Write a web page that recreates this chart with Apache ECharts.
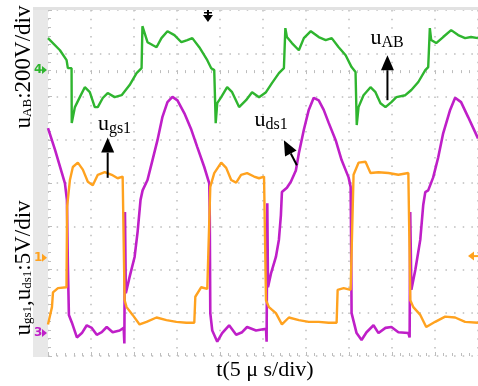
<!DOCTYPE html>
<html>
<head>
<meta charset="utf-8">
<script src="https://cdn.jsdelivr.net/npm/echarts@6/dist/echarts.min.js"></script>
<style>
  html, body { margin: 0; padding: 0; background: #fff; }
  #main { width: 478px; height: 386px; }
</style>
</head>
<body>
<div id="main"></div>
<script>
// time in µs (5 µs/div, 10 div), voltages in V
const uAB = [[0,148],[1.39,92],[2.16,46],[2.31,9],[2.74,9],[2.76,-245],[3.13,-171],[3.7,-125],[4.28,-79],[4.86,-102],[5.44,-171],[5.79,-171],[6.37,-129],[6.94,-106],[7.75,-125],[8.56,-116],[9.49,-69],[10.3,-14],[10.88,9],[10.98,203],[11.57,129],[12.15,116],[12.62,106],[13.19,148],[13.89,180],[14.7,162],[15.51,129],[16.2,139],[16.78,148],[17.59,106],[18.52,46],[18.98,9],[19.33,0],[19.5,-245],[19.68,-153],[20.14,-125],[20.83,-79],[21.41,-102],[22.22,-171],[23.03,-139],[23.73,-102],[24.54,-125],[25.35,-102],[26.04,-60],[26.85,-14],[27.43,9],[27.6,194],[27.78,153],[28.36,125],[29.17,92],[29.75,148],[30.56,180],[31.48,153],[32.29,139],[32.99,148],[33.8,106],[34.61,69],[35.3,14],[35.76,-9],[35.9,-254],[36.11,-171],[36.69,-116],[37.5,-79],[38.08,-102],[38.66,-153],[39.24,-171],[39.93,-148],[40.51,-125],[41.55,-116],[42.25,-92],[43.06,-55],[43.87,0],[44.21,14],[44.4,194],[44.56,139],[45.14,125],[45.95,153],[46.88,185],[47.69,162],[48.5,148],[49.19,153],[50,148]];

const uds1 = [[0,23.7],[0.81,21.2],[1.62,18.5],[1.97,17.3],[2.2,15.4],[2.31,7.9],[2.37,5.0],[2.43,2.1],[2.78,1.2],[3.36,-0.5],[3.94,0],[4.51,0.9],[5.09,0.6],[5.67,-0.2],[6.25,0.1],[6.83,0.7],[7.52,0.1],[8.33,0.3],[8.8,0.6],[8.88,-1.2],[8.95,14.0],[9.05,4.6],[9.49,6.5],[10.07,8.8],[10.42,11.7],[10.76,15.4],[11.0,16.5],[11.57,17.7],[12.15,20.0],[12.73,22.3],[13.31,25.0],[13.89,26.7],[14.47,27.3],[15.05,26.9],[15.86,25.4],[16.67,23.5],[17.36,21.5],[18.17,19.2],[18.75,17.3],[18.81,13.4],[18.87,2.3],[19.1,0.3],[19.68,-1.0],[20.25,0],[21.06,0.9],[21.88,-0.2],[22.57,0.1],[23.15,0.7],[24.19,0.3],[25.35,0.5],[25.42,-1.0],[25.5,15.0],[25.58,5.3],[25.93,6.9],[26.5,8.8],[26.85,10.8],[27.08,13.6],[27.2,16.3],[27.78,16.8],[28.24,17.5],[28.82,18.8],[29.17,20.8],[29.75,23.5],[30.32,25.8],[30.9,27.2],[31.48,26.9],[32.06,25.8],[32.64,24.3],[33.45,22.3],[34.14,20.0],[34.95,18.0],[35.19,16.9],[35.24,11.6],[35.3,2.3],[35.88,0],[36.46,-0.8],[37.04,0.1],[37.85,0.9],[38.43,0],[39.24,0.6],[39.93,0.7],[40.74,0.1],[41.9,0],[42.05,-0.5],[42.12,14.0],[42.25,5.0],[42.71,7.3],[43.29,10.8],[43.63,14.8],[43.87,16.3],[44.21,16.5],[44.79,18.0],[45.37,20.3],[45.95,23.1],[46.76,25.8],[47.34,27.2],[48.03,26.7],[48.84,25.0],[50,22.5]];

const ugs1 = [[0,-7.7],[0.46,-5.7],[0.58,-4.0],[1.16,-3.5],[2.15,-3.4],[2.22,5.9],[2.55,9.0],[2.89,10.5],[3.47,11.0],[4.05,10.2],[4.63,8.8],[5.21,8.4],[5.79,9.6],[6.6,9.9],[7.41,9.6],[8.1,9.2],[8.68,9.4],[8.85,9.2],[8.91,-4.9],[9.14,-5.7],[9.84,-6.6],[10.65,-7.7],[11.46,-7.4],[12.62,-6.9],[13.77,-7.2],[14.93,-7.4],[16.09,-7.5],[17.01,-7.5],[17.13,-4.5],[17.82,-3.4],[18.52,-3.6],[18.75,-3.6],[18.87,8.2],[19.33,9.8],[20.14,11.0],[20.72,10.4],[21.3,9.0],[21.88,8.7],[22.45,9.6],[23.15,9.8],[23.96,9.4],[24.54,9.2],[25.12,9.4],[25.29,9.4],[25.35,-4.9],[25.69,-5.7],[26.5,-6.4],[27.2,-7.7],[28.01,-6.9],[29.17,-7.2],[30.32,-7.4],[31.48,-7.4],[32.64,-7.5],[33.56,-7.5],[33.68,-3.7],[34.38,-3.5],[35.19,-3.7],[35.3,-3.7],[35.53,9.6],[36.11,11.0],[36.92,11.1],[37.5,9.8],[38.43,9.9],[39.58,9.8],[40.74,9.6],[41.9,9.8],[42.07,9.7],[42.13,-4.9],[42.48,-5.7],[43.29,-6.6],[43.98,-8.0],[45.02,-7.4],[46.18,-6.8],[47.34,-6.9],[48.5,-7.4],[50,-7.5]];

// scope settings: divisions, V/div and ground level (div from bottom) of each channel
const timeDiv = 5, nDivX = 10, nDivY = 8;
const abPerDiv = 200, abZeroDiv = 6.61;
const gsPerDiv = 5, gsZeroDiv = 2.27;
const dsPerDiv = 5, dsZeroDiv = 0.53;
const trigTime = 18.6, trigLevel = 0.2;

const green = '#2fb52f', magenta = '#bf1fc8', orange = '#ffa21f';
const serif = '"Liberation Serif", "Times New Roman", serif';

const chart = echarts.init(document.getElementById('main'), null, { renderer: 'canvas' });

const gridColor = '#bdbdbd';
const dotted = { color: gridColor, width: 1.5, type: [1.5, 7.14] };

function chanAxis(perDiv, zeroDiv) {
  return { type: 'value', show: false, min: -zeroDiv * perDiv, max: (nDivY - zeroDiv) * perDiv };
}

function gridAxis(extra) {
  return Object.assign({
    type: 'value', axisLine: { show: false }, axisLabel: { show: false },
    axisTick: { show: true, inside: true, length: 4, lineStyle: { color: gridColor } },
    minorTick: { show: true, splitNumber: 5, length: 3, lineStyle: { color: gridColor } },
    splitLine: { show: true, lineStyle: dotted }
  }, extra);
}

let option = {
  animation: false,
  grid: { left: 48, top: 10, width: 432, height: 346 },
  xAxis: [
    gridAxis({ min: 0, max: nDivX * timeDiv, interval: timeDiv, position: 'bottom' }),
    gridAxis({ min: 0, max: nDivX * timeDiv, interval: timeDiv, position: 'top', splitLine: { show: false } })
  ],
  yAxis: [
    gridAxis({ min: 0, max: nDivY, interval: 1, position: 'left' }),
    chanAxis(abPerDiv, abZeroDiv),
    chanAxis(gsPerDiv, gsZeroDiv),
    chanAxis(dsPerDiv, dsZeroDiv)
  ],
  series: [
    { name: 'uAB', type: 'line', yAxisIndex: 1, data: uAB, showSymbol: false, lineStyle: { color: green, width: 2.4 } },
    { name: 'uds1', type: 'line', yAxisIndex: 3, data: uds1, showSymbol: false, lineStyle: { color: magenta, width: 2.6 } },
    { name: 'ugs1', type: 'line', yAxisIndex: 2, data: ugs1, showSymbol: false, lineStyle: { color: orange, width: 2.4 } }
  ]
};
chart.setOption(option);

// annotations, placed from data coordinates
const toPx = (ax, t, v) => chart.convertToPixel({ xAxisIndex: 0, yAxisIndex: ax }, [t, v]);

const richPlot = {
  m: { fontSize: 22, fontFamily: serif, color: '#000' },
  s: { fontSize: 16, fontFamily: serif, color: '#000', padding: [9, 0, 0, 0] }
};
const richAxis = {
  m: { fontSize: 23, fontFamily: serif, color: '#000' },
  s: { fontSize: 13, fontFamily: serif, color: '#000', padding: [7, 0, 0, 0] }
};

function label(p, txt, rich, rot) {
  return {
    type: 'text', x: p[0], y: p[1], rotation: rot || 0, z: 100,
    style: { text: txt, rich: rich, align: rot ? 'center' : 'left', verticalAlign: 'middle' }
  };
}

function arrow(a, b) {
  const dx = b[0] - a[0], dy = b[1] - a[1], len = Math.sqrt(dx * dx + dy * dy);
  const ux = dx / len, uy = dy / len, hl = 15, hw = 6.5;
  const base = [b[0] - ux * hl, b[1] - uy * hl];
  return [
    { type: 'line', z: 100, shape: { x1: a[0], y1: a[1], x2: base[0], y2: base[1] }, style: { stroke: '#000', lineWidth: 2 } },
    { type: 'polygon', z: 100, shape: { points: [b, [base[0] - uy * hw, base[1] + ux * hw], [base[0] + uy * hw, base[1] - ux * hw]] }, style: { fill: '#000' } }
  ];
}

function chMarker(y, txt, col) {
  return [
    { type: 'text', x: 34, y: y, z: 100, style: { text: txt, fontSize: 12, fontWeight: 'bold', fontFamily: 'DejaVu Sans', fill: col, align: 'left', verticalAlign: 'middle' } },
    { type: 'polygon', z: 100, shape: { points: [[42, y - 4], [47, y], [42, y + 4]] }, style: { fill: col } }
  ];
}

const y4 = toPx(1, 0, 0)[1], y1 = toPx(2, 0, 0)[1], y3 = toPx(3, 0, 0)[1];
const trigX = toPx(0, trigTime, 0)[0], trigY = toPx(2, 0, trigLevel)[1];

let g = [
  { type: 'rect', z: 1, shape: { x: 33, y: 7, width: 15, height: 350 }, style: { fill: '#e8e8e8' } },
  { type: 'rect', z: 1, shape: { x: 33, y: 7, width: 445, height: 3 }, style: { fill: '#e2e2e2' } },
  // axis titles
  label([24, 67], '{m|u}{s|AB}{m|:200V/div}', richAxis, Math.PI / 2),
  label([24, 268], '{m|u}{s|gs1}{m|,u}{s|ds1}{m|:5V/div}', richAxis, Math.PI / 2),
  { type: 'text', x: 265, y: 370, z: 100, style: { text: 't(5 μ s/div)', fontSize: 22, fontFamily: serif, fill: '#000', align: 'center', verticalAlign: 'middle' } },
  // curve labels
  label(toPx(2, 5.8, 15.4), '{m|u}{s|gs1}', richPlot),
  label(toPx(3, 24.0, 24.6), '{m|u}{s|ds1}', richPlot),
  label(toPx(1, 37.5, 148), '{m|u}{s|AB}', richPlot),
  // trigger markers
  { type: 'polygon', z: 100, shape: { points: [[trigX - 5, 15], [trigX + 5, 15], [trigX, 22]] }, style: { fill: '#000' } },
  { type: 'rect', z: 100, shape: { x: trigX - 1, y: 10, width: 2, height: 6 }, style: { fill: '#000' } },
  { type: 'rect', z: 100, shape: { x: trigX - 4, y: 12, width: 8, height: 1.5 }, style: { fill: '#000' } },
  { type: 'polygon', z: 100, shape: { points: [[468, trigY], [474, trigY - 4.5], [474, trigY + 4.5]] }, style: { fill: orange } },
  { type: 'rect', z: 100, shape: { x: 473, y: trigY - 1, width: 5, height: 2 }, style: { fill: orange } }
];
g = g.concat(arrow(toPx(2, 6.94, 9.25), toPx(2, 6.94, 13.9)));
g = g.concat(arrow(toPx(3, 28.94, 19.4), toPx(3, 27.43, 22.3)));
g = g.concat(arrow(toPx(1, 39.47, -139), toPx(1, 39.47, 69)));
g = g.concat(chMarker(y4, '4', green), chMarker(y1, '1', orange), chMarker(y3, '3', magenta));

chart.setOption({ graphic: g });
</script>
</body>
</html>
